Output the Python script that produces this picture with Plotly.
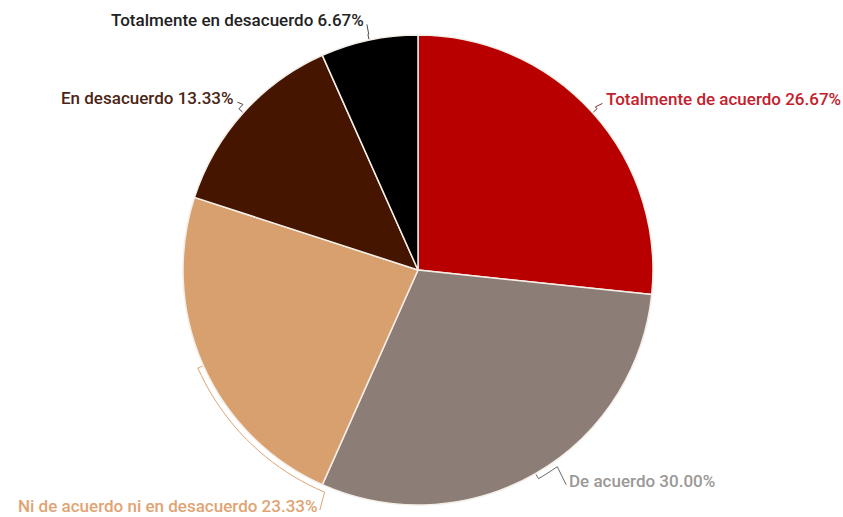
import math
import plotly.graph_objects as go

# Survey responses (percent of respondents)
categories = [
    "Totalmente de acuerdo",
    "De acuerdo",
    "Ni de acuerdo ni en desacuerdo",
    "En desacuerdo",
    "Totalmente en desacuerdo",
]
values = [26.67, 30.00, 23.33, 13.33, 6.67]
slice_colors = ["#B80000", "#8C7D77", "#D8A06E", "#451500", "#000000"]
label_colors = ["#C3202C", "#9B9896", "#E0A474", "#4A2414", "#222222"]
leader_colors = ["#8A3030", "#6A6A6A", "#E0A474", "#4A4A4A", "#4A4A4A"]

# label placement: bearing (deg, clockwise from 12 o'clock) and distance from centre
label_bearing = [47.4, 144.7, 202.8, 313.4, 348.2]
label_dist = [252, 258, 256, 250, 255]

W, H = 843, 517
CX, CY, R = 418, 270, 235

fig = go.Figure()
fig.add_trace(go.Pie(
    labels=categories,
    values=values,
    sort=False,
    direction="clockwise",
    rotation=0,
    textinfo="none",
    hoverinfo="label+percent",
    marker=dict(colors=slice_colors, line=dict(color="#F4EEE8", width=1.5)),
    domain=dict(x=[(CX - R) / W, (CX + R) / W], y=[1 - (CY + R) / H, 1 - (CY - R) / H]),
    showlegend=False,
))


def pt(bearing, rad):
    a = math.radians(bearing)
    return CX + rad * math.sin(a), CY - rad * math.cos(a)


total = sum(values)
cum = 0.0
for i, (cat, v) in enumerate(zip(categories, values)):
    mid = (cum + v / 2) / total * 360
    cum += v
    lb = label_bearing[i]
    # leader: out from the arc, along the arc towards the label, then to the text
    pts = [pt(mid, R + 1), pt(mid, R + 6)]
    steps = max(1, int(abs(lb - mid) / 2))
    for s in range(1, steps + 1):
        pts.append(pt(mid + (lb - mid) * s / steps, R + 6))
    ax, ay = pt(lb, label_dist[i])
    right = math.sin(math.radians(lb)) >= 0
    pts.append((ax + (-1 if right else 1), ay + 4))
    path = "M " + " L ".join(f"{x:.1f},{y:.1f}" for x, y in pts)
    fig.add_shape(type="path", path=path, xref="x", yref="y",
                  line=dict(color=leader_colors[i], width=1))
    fig.add_annotation(
        x=ax, y=ay, xref="x", yref="y",
        text=f"{cat} {v:.2f}%",
        showarrow=False,
        xanchor="left" if right else "right",
        yanchor="middle",
        font=dict(family="Roboto", size=17, color=label_colors[i], weight=500),
    )

fig.update_layout(
    width=W, height=H,
    margin=dict(l=0, r=0, t=0, b=0),
    paper_bgcolor="white", plot_bgcolor="rgba(0,0,0,0)",
    xaxis=dict(range=[0, W], visible=False, fixedrange=True),
    yaxis=dict(range=[H, 0], visible=False, fixedrange=True),
)

fig.write_html("out.html")
